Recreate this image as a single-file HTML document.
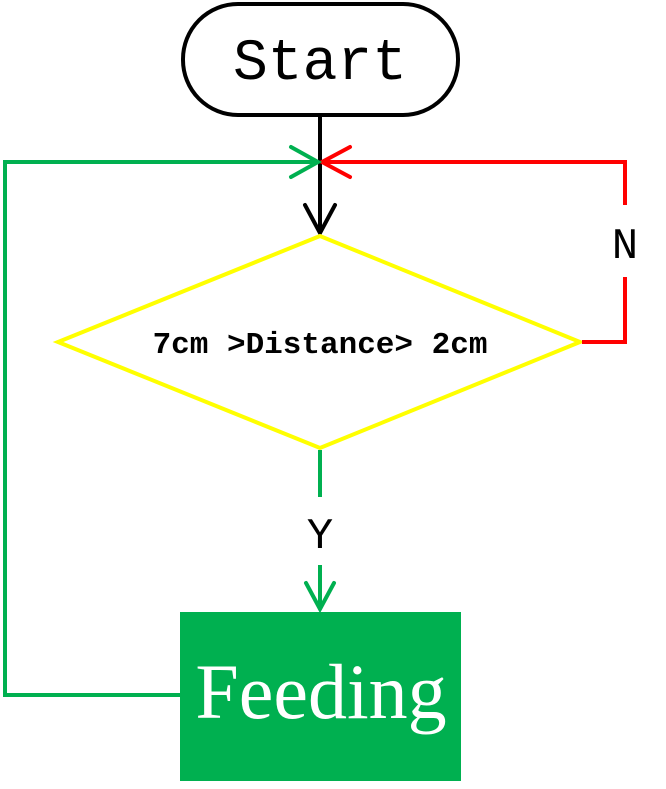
<!DOCTYPE html>
<html><head><style>html,body{margin:0;padding:0;background:#fff}</style></head>
<body>
<svg width="666" height="784" viewBox="0 0 666 784" xmlns="http://www.w3.org/2000/svg">
<rect x="183" y="4" width="275" height="111" rx="55" ry="55" fill="#fff" stroke="#000" stroke-width="4"/>
<text x="320" y="79" text-anchor="middle" font-family="Liberation Mono, monospace" font-size="58" fill="#000">Start</text>
<line x1="320" y1="116" x2="320" y2="233" stroke="#000" stroke-width="4"/>
<polyline points="305,205 320,233 335,205" fill="none" stroke="#000" stroke-width="4" stroke-linecap="round"/>
<polygon points="320,236 58,342 320,448 580,342" fill="none" stroke="#ffff00" stroke-width="4"/>
<text x="320" y="353" text-anchor="middle" font-family="Liberation Mono, monospace" font-weight="bold" font-size="31" fill="#000">7cm &gt;Distance&gt; 2cm</text>
<polyline points="582,342 625,342 625,277" fill="none" stroke="#ff0000" stroke-width="4"/>
<polyline points="625,205 625,162 322,162" fill="none" stroke="#ff0000" stroke-width="4"/>
<polyline points="350,147 322,162 350,177" fill="none" stroke="#ff0000" stroke-width="4" stroke-linecap="round"/>
<text x="625" y="258" text-anchor="middle" font-family="Liberation Mono, monospace" font-size="44" fill="#000">N</text>
<polyline points="180,695 5,695 5,162 318,162" fill="none" stroke="#00b050" stroke-width="4"/>
<polyline points="291,147 318,162 291,177" fill="none" stroke="#00b050" stroke-width="4" stroke-linecap="round"/>
<line x1="320" y1="450" x2="320" y2="497" stroke="#00b050" stroke-width="4"/>
<line x1="320" y1="565" x2="320" y2="609" stroke="#00b050" stroke-width="4"/>
<polyline points="306,583 320,609 334,583" fill="none" stroke="#00b050" stroke-width="4" stroke-linecap="round"/>
<text x="320" y="548" text-anchor="middle" font-family="Liberation Mono, monospace" font-size="44" fill="#000">Y</text>
<rect x="180" y="612" width="281" height="169" fill="#00b050"/>
<text x="321" y="718" text-anchor="middle" font-family="Liberation Serif, serif" font-size="78" fill="#fff">Feeding</text>
</svg>
</body></html>
